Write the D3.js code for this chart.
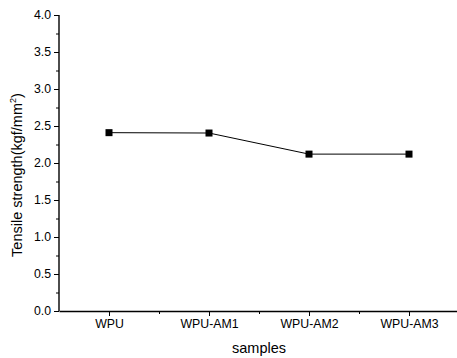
<!DOCTYPE html>
<html>
<head>
<meta charset="utf-8">
<script src="https://cdn.jsdelivr.net/npm/d3@7"></script>
<style>
  body { margin: 0; background: #fff; }
  text { font-family: "Liberation Sans", Arial, sans-serif; fill: #000; }
</style>
</head>
<body>
<div id="chart"></div>
<script>
// sample names and tensile strength readings
const samples = ['WPU', 'WPU-AM1', 'WPU-AM2', 'WPU-AM3'];
const strength = [2.41, 2.405, 2.12, 2.12];
const yTicks = [0.0, 0.5, 1.0, 1.5, 2.0, 2.5, 3.0, 3.5, 4.0];

const svgWidth = 457;
const svgHeight = 358;

const svg = d3.select('#chart')
    .append('svg')
    .attr('width', svgWidth)
    .attr('height', svgHeight);

// x positions: samples at 1..4, axis from 0.5 to 4.5
const x = d3.scaleLinear()
    .domain([0.5, 4.5])
    .range([59, 459]);

const y = d3.scaleLinear()
    .domain([0, 4])
    .range([311, 15]);

// y axis with majors and minor ticks
const yAxis = svg.append('g')
    .attr('transform', 'translate(59,0)')
    .call(d3.axisLeft(y).tickValues(yTicks).tickFormat(d3.format('.1f')).tickSize(5).tickPadding(3));

svg.append('g')
    .attr('transform', 'translate(59,0)')
    .call(d3.axisLeft(y).tickValues(d3.range(0.25, 4, 0.5)).tickFormat('').tickSize(3))
    .select('.domain').remove();

// x axis
const xAxis = svg.append('g')
    .attr('transform', 'translate(0,311)')
    .call(d3.axisBottom(x).tickValues([1, 2, 3, 4]).tickFormat(d => samples[d - 1]).tickSize(5).tickSizeOuter(0).tickPadding(3));

svg.append('g')
    .attr('transform', 'translate(0,311)')
    .call(d3.axisBottom(x).tickValues([1.5, 2.5, 3.5]).tickFormat('').tickSize(3))
    .select('.domain').remove();

svg.selectAll('.domain').attr('stroke', '#000').attr('stroke-width', 1.4);
svg.selectAll('.tick line').attr('stroke', '#000');
svg.selectAll('.tick text').style('font-size', '12.3px').attr('fill', '#000');
yAxis.select('.domain').attr('d', 'M0,15V311');

// axis titles
svg.append('text')
    .attr('x', x(2.5))
    .attr('y', 353)
    .attr('text-anchor', 'middle')
    .style('font-size', '14.5px')
    .text('samples');

const yTitle = svg.append('text')
    .attr('transform', 'translate(22,175) rotate(-90)')
    .attr('text-anchor', 'middle')
    .style('font-size', '14.5px');
yTitle.append('tspan').text('Tensile strength(kgf/mm');
yTitle.append('tspan').attr('dy', -6).style('font-size', '9px').text('2');
yTitle.append('tspan').attr('dy', 6).text(')');

// line and markers
const line = d3.line()
    .x((d, i) => x(i + 1))
    .y(d => y(d));

svg.append('path')
    .datum(strength)
    .attr('d', line)
    .attr('fill', 'none')
    .attr('stroke', '#000')
    .attr('stroke-width', 1);

svg.selectAll('.marker')
    .data(strength).enter()
    .append('rect')
    .attr('class', 'marker')
    .attr('x', (d, i) => x(i + 1) - 3.5)
    .attr('y', d => y(d) - 3.5)
    .attr('width', 7)
    .attr('height', 7)
    .attr('fill', '#000');
</script>
</body>
</html>
